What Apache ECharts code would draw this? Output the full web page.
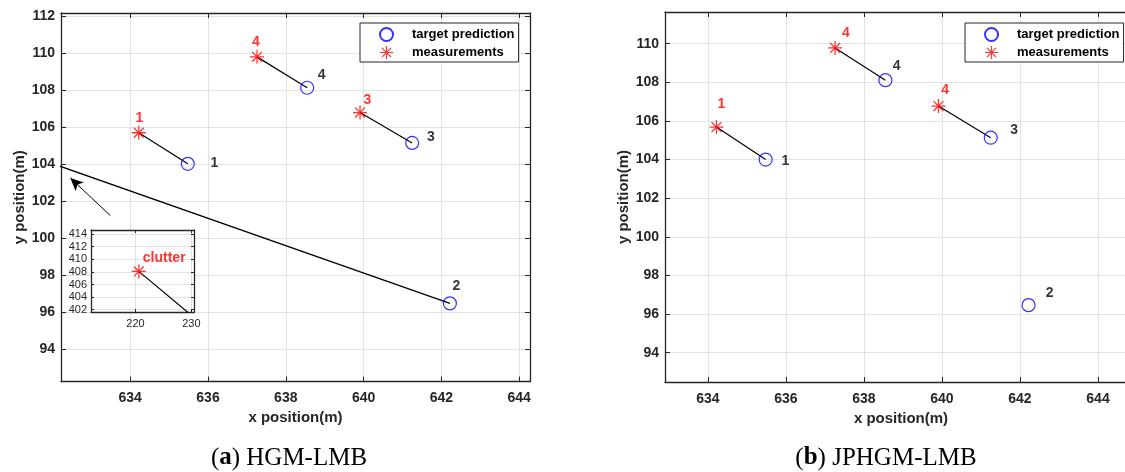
<!DOCTYPE html>
<html>
<head>
<meta charset="utf-8">
<script src="https://cdn.jsdelivr.net/npm/echarts@6/dist/echarts.min.js"></script>
<style>
  html, body { margin: 0; padding: 0; background: #fff; }
  #chart { width: 1125px; height: 472px; }
</style>
</head>
<body>
<div id="chart"></div>
<script>
// Predicted target positions (shared by both filters)
const trackIds = ['1', '2', '3', '4'];
const trackX = [635.48, 642.22, 641.25, 638.55];
const trackY = [104.00, 96.46, 105.13, 108.11];

// Measurements
const measX = [634.22, 639.91, 637.26];
const measY = [105.68, 106.77, 109.78];

// Track each measurement was assigned to, and the label drawn next to it
const measTrackHGM = [0, 2, 3];
const measIdsHGM = ['1', '3', '4'];
const measTrackJPHGM = [0, 2, 3];
const measIdsJPHGM = ['1', '4', '4'];

// Clutter point that HGM-LMB associated with track 2
const clutterX = [220.6];
const clutterY = [408.07];
const clutterTrackHGM = [1];

// Arrow pointing at the clutter association line (data units)
const arrowFrom = [633.49, 101.2];
const arrowTo = [632.46, 103.24];

// Axis extents
const xRangeA = [632.22, 644.28];
const yRangeA = [92.24, 112.15];
const xRangeB = [632.9, 645.0];
const yRangeB = [92.48, 111.64];
const xRangeInset = [212.05, 230.47];
const yRangeInset = [401.64, 414.63];

// Captions
const captionA = ['a', ' HGM-LMB'];
const captionB = ['b', ' JPHGM-LMB'];

const INK = '#262626';
const GRID_LINE = '#e2e2e2';
const SANS = '"Liberation Sans", Arial, Helvetica, sans-serif';
const SERIF = '"Liberation Serif", "Times New Roman", serif';
const BLUE = '#0000ff';
const RED = '#ff0000';
// eight-spoke asterisk marker
const STAR = 'path://M9.1 0H10.9V20H9.1Z M0 9.1H20V10.9H0Z M3.57 2.29L17.71 16.43L16.43 17.71L2.29 3.57Z M2.29 16.43L16.43 2.29L17.71 3.57L3.57 17.71Z';

function onStep(v, step) {
  return Math.abs(v / step - Math.round(v / step)) < 1e-6;
}

function boxAxes(dim, grid, range, step, split, primary) {
  const base = {
    type: 'value', gridIndex: grid, min: range[0], max: range[1],
    minInterval: step, maxInterval: step, splitNumber: split,
    z: primary.z || 0,
    axisLine: { show: true, onZero: false, lineStyle: { color: INK, width: 1.3 } },
    axisTick: { show: true, inside: true, length: primary.tick, lineStyle: { color: INK, width: 1 } }
  };
  const main = Object.assign({}, base, {
    position: dim === 'x' ? 'bottom' : 'left',
    axisLabel: {
      show: true, margin: primary.margin, color: INK, fontSize: primary.fontSize,
      fontWeight: primary.bold ? 'bold' : 'normal', fontFamily: SANS,
      formatter: v => (onStep(v, step) ? String(Math.round(v)) : '')
    },
    splitLine: { show: true, lineStyle: { color: GRID_LINE, width: 1 } }
  });
  if (primary.name) {
    Object.assign(main, {
      name: primary.name, nameLocation: 'middle', nameGap: primary.nameGap,
      nameTextStyle: { color: INK, fontSize: 15, fontWeight: 'bold', fontFamily: SANS }
    });
  }
  const mirror = Object.assign({}, base, {
    position: dim === 'x' ? 'top' : 'right',
    axisLabel: { show: false },
    splitLine: { show: false }
  });
  return [main, mirror];
}

const mainX = name => ({ tick: 5, margin: 10, fontSize: 14, bold: true, name, nameGap: 23 });
const mainY = name => ({ tick: 5, margin: 6, fontSize: 14, bold: true, name, nameGap: 34 });
const insetOpt = { tick: 3, margin: 5, fontSize: 11, bold: false, z: 6 };

const xAxes = [].concat(
  boxAxes('x', 0, xRangeA, 2, 6, mainX('x position(m)')),
  boxAxes('x', 1, xRangeB, 2, 6, mainX('x position(m)')),
  boxAxes('x', 2, xRangeInset, 10, 2, Object.assign({}, insetOpt, { margin: 6 }))
);
const yAxes = [].concat(
  boxAxes('y', 0, yRangeA, 2, 10, mainY('y position(m)')),
  boxAxes('y', 1, yRangeB, 2, 10, mainY('y position(m)')),
  boxAxes('y', 2, yRangeInset, 2, 6, Object.assign({}, insetOpt, { margin: 4 }))
);

function numLabel(text, offset, color, size) {
  return {
    show: true, formatter: text, position: 'inside', offset,
    color, fontSize: size || 14, fontWeight: 'bold', fontFamily: SANS
  };
}

function trackSeries(axis, offsets) {
  return {
    type: 'scatter', name: 'target prediction', xAxisIndex: axis, yAxisIndex: axis,
    symbol: 'circle', symbolSize: 13, z: 4, silent: true,
    itemStyle: { color: 'rgba(0,0,0,0)', borderColor: BLUE, borderWidth: 1.2 },
    data: trackX.map((x, i) => ({
      value: [x, trackY[i]],
      label: numLabel(trackIds[i], offsets[i], '#000')
    }))
  };
}

function measSeries(axis, xs, ys, ids, offsets, z, size) {
  return {
    type: 'scatter', name: 'measurements', xAxisIndex: axis, yAxisIndex: axis,
    symbol: STAR, symbolSize: 14, z: z || 4, silent: true,
    itemStyle: { color: RED },
    data: xs.map((x, i) => ({
      value: [x, ys[i]],
      label: numLabel(ids[i], offsets[i], RED, size)
    }))
  };
}

function linkSeries(axis, xs, ys, toTrack, z) {
  return xs.map((x, i) => ({
    type: 'line', xAxisIndex: axis, yAxisIndex: axis,
    symbol: 'none', showSymbol: false, clip: true, silent: true, z: z || 3,
    lineStyle: { color: '#000', width: 1.2 },
    data: [[x, ys[i]], [trackX[toTrack[i]], trackY[toTrack[i]]]]
  }));
}

// left panel
const seriesA = [].concat(
  linkSeries(0, measX, measY, measTrackHGM),
  linkSeries(0, clutterX, clutterY, clutterTrackHGM),
  [trackSeries(0, [[26.5, -0.4], [6.5, -17], [18.7, -6], [14.4, -12.3]]),
   measSeries(0, measX, measY, measIdsHGM, [[0.6, -15], [7.3, -12], [-1.2, -14.5]])]
);
// arrow annotation on the clutter association line
seriesA[3].markLine = {
  silent: true, animation: false,
  symbol: ['none', 'arrow'], symbolSize: [9, 13],
  lineStyle: { color: '#000', width: 1, type: 'solid' },
  label: { show: false },
  emphasis: { disabled: true },
  data: [[{ coord: arrowFrom }, { coord: arrowTo }]]
};

// right panel
const seriesB = [].concat(
  linkSeries(2, measX, measY, measTrackJPHGM),
  [trackSeries(2, [[19.7, 2], [21.2, -12], [23.3, -8], [11.3, -13.7]]),
   measSeries(2, measX, measY, measIdsJPHGM, [[5, -22.5], [6.7, -16], [10.9, -14.4]])]
);

// inset showing where the clutter point lies
const seriesInset = [].concat(
  linkSeries(4, clutterX, clutterY, clutterTrackHGM, 7),
  [measSeries(4, clutterX, clutterY, ['clutter'], [[25.4, -13.7]], 8)]
);

function legendAt(left) {
  return {
    show: true, orient: 'vertical', left, top: 23,
    itemWidth: 41, itemHeight: 13, itemGap: 3, symbolKeepAspect: true,
    padding: [4, 4, 2, 19],
    borderColor: INK, borderWidth: 1, backgroundColor: '#fff',
    selectedMode: false,
    textStyle: { color: '#000', fontSize: 13, fontWeight: 'bold', fontFamily: SANS, lineHeight: 15 },
    data: [{ name: 'target prediction', icon: 'circle' }, { name: 'measurements', icon: STAR }]
  };
}

function caption(x, parts) {
  return {
    type: 'text', x, y: 458, z: 10,
    style: {
      text: '{p|(}{b|' + parts[0] + '}{p|)' + parts[1] + '}',
      align: 'center', verticalAlign: 'middle',
      rich: {
        p: { fontFamily: SERIF, fontSize: 25, color: '#000' },
        b: { fontFamily: SERIF, fontSize: 25, color: '#000', fontWeight: 'bold' }
      }
    }
  };
}

const chart = echarts.init(document.getElementById('chart'), null, { renderer: 'canvas' });
chart.setOption({
  animation: false,
  backgroundColor: '#fff',
  grid: [
    { left: 61, top: 13, width: 469, height: 368.5, outerBoundsMode: 'none', containLabel: false },
    { left: 665, top: 12, width: 472, height: 370, outerBoundsMode: 'none', containLabel: false },
    { left: 91, top: 230, width: 103, height: 82, show: true, backgroundColor: '#fff', borderWidth: 0, z: 5, outerBoundsMode: 'none', containLabel: false }
  ],
  xAxis: xAxes,
  yAxis: yAxes,
  legend: [legendAt(360), legendAt(965)],
  series: [].concat(seriesA, seriesB, seriesInset),
  graphic: [caption(289, captionA), caption(886, captionB)]
});
</script>
</body>
</html>
